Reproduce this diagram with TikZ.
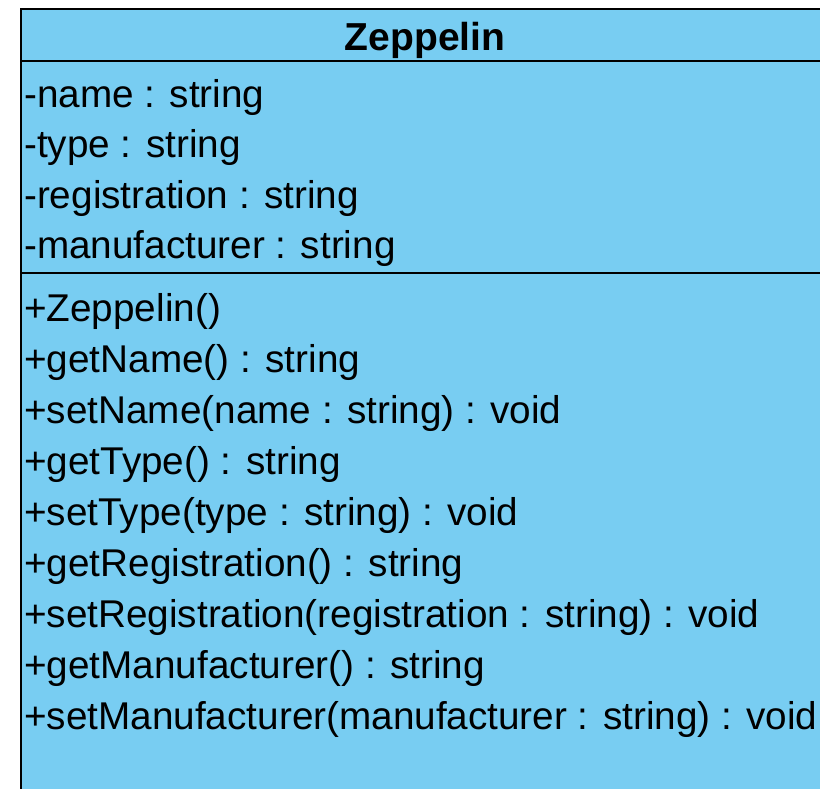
\documentclass[tikz,border=0pt]{standalone}
\usepackage{fontspec}
\setmainfont{Liberation Sans}
\definecolor{classblue}{RGB}{120,205,242}
\tikzset{
  member/.style={anchor=base west, inner sep=0pt, font=\fontsize{38.7}{47}\selectfont},
  classname/.style={anchor=base, inner sep=0pt, font=\fontsize{39}{47}\selectfont\bfseries}
}
\begin{document}
\begin{tikzpicture}[x=1pt,y=-1pt]
    \useasboundingbox (0,0) rectangle (820,788);
    \clip (0,0) rectangle (820,788);

    \draw[line width=2pt, fill=classblue] (21,8.5) rectangle (829,812);
    \draw[line width=2pt] (21,60.5) -- (829,60.5);
    \draw[line width=2pt] (21,273) -- (829,273);

    \node[classname] (zeppelin) at (425,50) {Zeppelin};

    % attributes
    \node[member] (name) at (24,107) {-name : string};
    \node[member] (type) at (24,157.5) {-type : string};
    \node[member] (registration) at (24,208) {-registration : string};
    \node[member] (manufacturer) at (24,258.5) {-manufacturer : string};

    % operations
    \node[member] (ctor) at (24,321) {+Zeppelin()};
    \node[member] (getname) at (24,372) {+getName() : string};
    \node[member] (setname) at (24,423) {+setName(name : string) : void};
    \node[member] (gettype) at (24,474) {+getType() : string};
    \node[member] (settype) at (24,525) {+setType(type : string) : void};
    \node[member] (getreg) at (24,576) {+getRegistration() : string};
    \node[member] (setreg) at (24,627) {+setRegistration(registration : string) : void};
    \node[member] (getmanu) at (24,678) {+getManufacturer() : string};
    \node[member] (setmanu) at (24,729) {+setManufacturer(manufacturer : string) : void};
\end{tikzpicture}
\end{document}
